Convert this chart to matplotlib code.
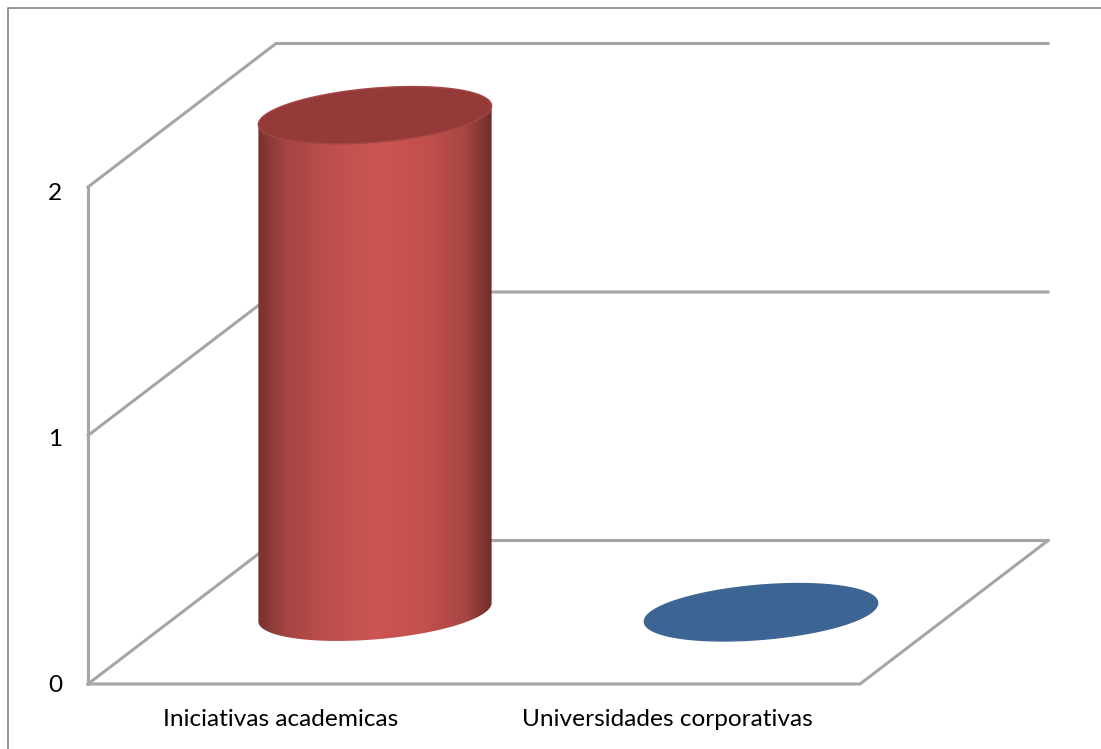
import numpy as np
import matplotlib
matplotlib.use('Agg')
import matplotlib.pyplot as plt
from matplotlib.colors import LinearSegmentedColormap
from matplotlib.patches import Polygon

categories = ['Iniciativas academicas', 'Universidades corporativas']
values = [2, 0]
value_ticks = [0, 1, 2]

W, H = 1101, 749
# oblique projection of the chart box, in pixels
X0, Y0 = 88, 684
BOX_W = 772
VAL_H = 248.5
DX, DY = 188, -143.5
R_X, R_Z = 0.143, 0.2
GRID = '#a6a6a6'
FONT = ['Lato', 'DejaVu Sans']


def proj(x, v, z):
    return X0 + BOX_W*x + DX*z, Y0 - VAL_H*v + DY*z


def ellipse(cx, v):
    t = np.linspace(0, 2*np.pi, 361)
    return proj(cx + R_X*np.cos(t), v, 0.5 + R_Z*np.sin(t))


fig = plt.figure(figsize=(W/100, H/100), dpi=100)
ax = fig.add_axes([0, 0, 1, 1])
ax.set_xlim(0, W)
ax.set_ylim(H, 0)
ax.axis('off')

# outer frame
ax.plot([8, 8, W], [H, 8, 8], color='#8c8c8c', lw=1.3)

# walls and floor
for v in value_ticks:
    fx, fy = proj(0, v, 0)
    bx, by = proj(0, v, 1)
    ex, ey = proj(1, v, 1)
    ax.plot([fx, bx, ex], [fy, by, ey], color=GRID, lw=2.2, solid_joinstyle='miter')
    ax.text(fx - 26, fy + 1 + 2.5*v, str(v), ha='right', va='center', fontsize=17.6, family=FONT)
ax.plot(*zip(proj(0, 0, 0), proj(1, 0, 0), proj(1, 0, 1)), color=GRID, lw=2.2)
ax.plot(*zip(proj(0, 0, 0), proj(0, max(value_ticks), 0)), color=GRID, lw=2.2)

shade = LinearSegmentedColormap.from_list('cyl', [
    (0, '#783231'), (0.12, '#a34644'), (0.3, '#bd4f4d'), (0.5, '#cb5553'),
    (0.72, '#c34f4d'), (0.88, '#a84745'), (1, '#6f2c2b')])

for i, (name, v) in enumerate(zip(categories, values)):
    cx = (i + 0.5)/len(categories)
    bx, by = ellipse(cx, 0)
    if v > 0:
        tx, ty = ellipse(cx, v)
        a, b = np.argmax(bx), np.argmin(bx)
        # side of the cylinder: the lower arc left to right, then back along the top
        low = np.r_[b:361, 1:a+1]
        pts = np.r_[np.c_[bx[low], by[low]], [[tx[a], ty[a]]], [[tx[b], ty[b]]]]
        body = Polygon(pts, closed=True, fc='none', ec='none')
        ax.add_patch(body)
        im = ax.imshow(np.linspace(0, 1, 256)[None, :], cmap=shade, aspect='auto',
                       extent=[bx.min(), bx.max(), by.max(), ty.min()], zorder=3)
        im.set_clip_path(body)
        ax.fill(tx, ty, color='#943a38', ec='#a84644', lw=1, zorder=4)
    else:
        ax.fill(bx, by, color='#3c6594', zorder=3)
    lx, _ = proj(cx, 0, 0)
    ax.text(lx, 719, name, ha='center', va='center', fontsize=17.6, family=FONT)

ax.set_xlim(0, W)
ax.set_ylim(H, 0)
fig.savefig('out.png', dpi=100)
